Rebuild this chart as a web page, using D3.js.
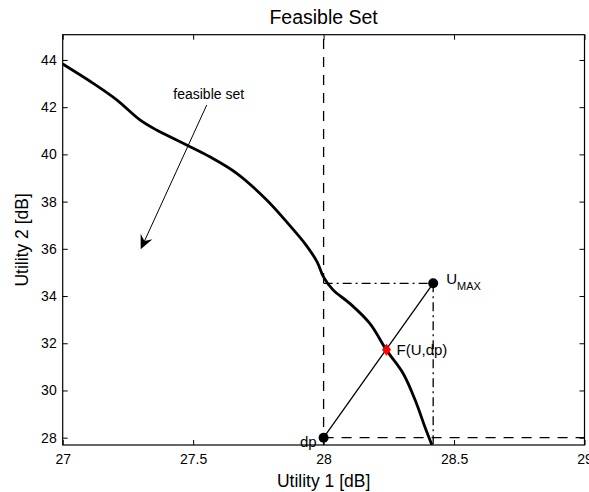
<!DOCTYPE html>
<meta charset="utf-8">
<style>
body { margin: 0; background: #fff; }
text { font-family: "Liberation Sans", Arial, sans-serif; fill: #000; }
.tick line { stroke: #000; }
.tick text { font-size: 14px; }
</style>
<script src="https://d3js.org/d3.v7.min.js"></script>
<svg width="589" height="492"></svg>
<script>

// frontier of the feasible set (Utility 1, Utility 2), dB
var curveU1 = [27.0, 27.117, 27.207, 27.296, 27.36, 27.475, 27.564, 27.667, 27.782, 27.871,
               27.93, 27.975, 28.0, 28.037, 28.10, 28.177, 28.241, 28.305, 28.356, 28.388, 28.415];
var curveU2 = [43.83, 43.01, 42.31, 41.46, 41.03, 40.40, 39.90, 39.20, 38.07, 36.98,
               36.2, 35.45, 34.8, 34.25, 33.69, 32.84, 31.71, 30.72, 29.45, 28.46, 27.69];

var dp = [28, 28];
var uMax = [28.42, 34.54];
var fPoint = [28.241, 31.73];

var xTicks = [27, 27.5, 28, 28.5, 29];
var yTicks = [28, 30, 32, 34, 36, 38, 40, 42, 44];

// arrow for the "feasible set" note: from, to
var arrowFrom = [27.552, 42.09];
var arrowTo = [27.299, 35.98];

var svg = d3.select("svg"),
    width = +svg.attr("width"),
    height = +svg.attr("height");

var margin = {top: 34.7, right: 4.5, bottom: 47, left: 62.7};

var x = d3.scaleLinear().domain([27, 29]).range([margin.left, width - margin.right]);
var y = d3.scaleLinear().domain([27.69, 45.07]).range([height - margin.bottom, margin.top]);

var x0 = x.range()[0], x1 = x.range()[1], y0 = y.range()[0], y1 = y.range()[1];

svg.append("clipPath").attr("id", "clip")
  .append("rect").attr("x", x0).attr("y", y1).attr("width", x1 - x0).attr("height", y0 - y1);

// axes, ticks inward on all four sides
var fmt = function(d) { return d3.format("")(d); };
svg.append("g").attr("transform", "translate(0," + y0 + ")")
  .call(d3.axisBottom(x).tickValues(xTicks).tickFormat(fmt).tickSizeInner(-5).tickSizeOuter(0).tickPadding(9))
  .call(function(g) { g.select(".domain").remove(); });
svg.append("g").attr("transform", "translate(0," + y1 + ")")
  .call(d3.axisTop(x).tickValues(xTicks).tickFormat("").tickSizeInner(-5).tickSizeOuter(0))
  .call(function(g) { g.select(".domain").remove(); });
svg.append("g").attr("transform", "translate(" + x0 + ",0)")
  .call(d3.axisLeft(y).tickValues(yTicks).tickFormat(fmt).tickSizeInner(-5).tickSizeOuter(0).tickPadding(6))
  .call(function(g) { g.select(".domain").remove(); });
svg.append("g").attr("transform", "translate(" + x1 + ",0)")
  .call(d3.axisRight(y).tickValues(yTicks).tickFormat("").tickSizeInner(-5).tickSizeOuter(0))
  .call(function(g) { g.select(".domain").remove(); });

svg.selectAll(".tick text").attr("fill", "#000");

var plot = svg.append("g").attr("clip-path", "url(#clip)");

function seg(a, b, dash, w) {
  plot.append("line")
    .attr("x1", x(a[0])).attr("y1", y(a[1]))
    .attr("x2", x(b[0])).attr("y2", y(b[1]))
    .attr("stroke", "#000")
    .attr("stroke-width", w || 1.3)
    .attr("stroke-dasharray", dash);
}

// dashed guides through dp
seg([dp[0], y.domain()[0]], [dp[0], y.domain()[1]], "10,8");
seg([dp[0], dp[1]], [x.domain()[1], dp[1]], "10,8");
// dash-dot guides to U_MAX
seg([dp[0], uMax[1]], uMax, "9,4,2,4");
seg(uMax, [uMax[0], y.domain()[0]], "9,4,2,4");
// line dp -> U_MAX
seg(dp, uMax, null, 1.3);

// frontier
var line = d3.line()
  .curve(d3.curveCatmullRom.alpha(0.5))
  .x(function(d) { return x(d[0]); })
  .y(function(d) { return y(d[1]); });

plot.append("path")
  .datum(d3.zip(curveU1, curveU2))
  .attr("fill", "none")
  .attr("stroke", "#000")
  .attr("stroke-width", 2.8)
  .attr("stroke-linejoin", "round")
  .attr("d", line);

// markers
[dp, uMax].forEach(function(p) {
  svg.append("circle").attr("cx", x(p[0])).attr("cy", y(p[1])).attr("r", 5).attr("fill", "#000");
});
svg.append("path")
  .attr("transform", "translate(" + x(fPoint[0]) + "," + y(fPoint[1]) + ")")
  .attr("d", "M0,-6L4.5,0L0,6L-4.5,0Z")
  .attr("fill", "#ff0000");

// labels
svg.append("text").attr("x", x(uMax[0]) + 13).attr("y", y(uMax[1]) + 1)
  .style("font-size", "15px").text("U")
  .append("tspan").attr("dy", 6).style("font-size", "11px").text("MAX");
svg.append("text").attr("x", x(fPoint[0]) + 10).attr("y", y(fPoint[1]) + 5)
  .style("font-size", "15px").text("F(U,dp)");
svg.append("text").attr("x", x(dp[0]) - 7).attr("y", y(dp[1]) + 9)
  .attr("text-anchor", "end").style("font-size", "15px").text("dp");

// annotation arrow
var ax0 = x(arrowFrom[0]), ay0 = y(arrowFrom[1]), ax1 = x(arrowTo[0]), ay1 = y(arrowTo[1]);
var ang = Math.atan2(ay1 - ay0, ax1 - ax0);
svg.append("line")
  .attr("x1", ax0).attr("y1", ay0).attr("x2", ax1 - 6 * Math.cos(ang)).attr("y2", ay1 - 6 * Math.sin(ang))
  .attr("stroke", "#000").attr("stroke-width", 1);
svg.append("path")
  .attr("transform", "translate(" + ax1 + "," + ay1 + ") rotate(" + (ang * 180 / Math.PI) + ")")
  .attr("d", "M0,0L-14,-6.5L-9,0L-14,6.5Z")
  .attr("fill", "#000");
svg.append("text").attr("x", ax0 + 2).attr("y", ay0 - 6)
  .attr("text-anchor", "middle").style("font-size", "14px").text("feasible set");

// box
svg.append("rect")
  .attr("x", x0).attr("y", y1).attr("width", x1 - x0).attr("height", y0 - y1)
  .attr("fill", "none").attr("stroke", "#000").attr("stroke-width", 1.2);

// titles
svg.append("text").attr("x", (x0 + x1) / 2).attr("y", 24)
  .attr("text-anchor", "middle").style("font-size", "19.5px").text("Feasible Set");
svg.append("text").attr("x", (x0 + x1) / 2).attr("y", 487)
  .attr("text-anchor", "middle").style("font-size", "17.5px").text("Utility 1 [dB]");
svg.append("text")
  .attr("transform", "translate(28," + ((y0 + y1) / 2) + ") rotate(-90)")
  .attr("text-anchor", "middle").style("font-size", "17.5px").text("Utility 2 [dB]");

</script>
